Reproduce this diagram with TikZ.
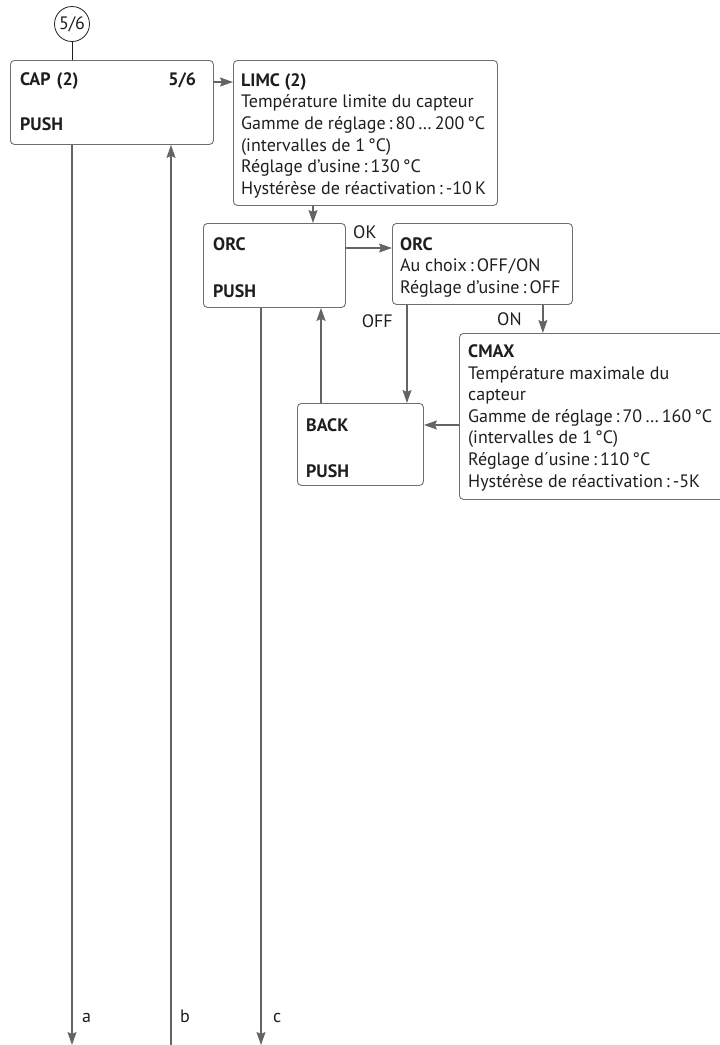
\documentclass[tikz,border=0pt]{standalone}
\usepackage{fontspec}
\setmainfont{PT Sans}
\definecolor{menugray}{RGB}{110,110,110}
\definecolor{linegray}{RGB}{100,100,100}
\definecolor{textdark}{RGB}{30,30,30}
\usetikzlibrary{arrows.meta,positioning,calc}

\begin{document}
\begin{tikzpicture}[
  x=1pt, y=-1pt,
  every node/.style={font=\fontsize{18}{21.6}\selectfont,text=textdark},
  menu/.style={draw=menugray,line width=0.9pt,rounded corners=4pt,
               anchor=north west,inner sep=0pt},
  txt/.style={anchor=north west,inner sep=0pt,align=left},
  flow/.style={draw=linegray,line width=1.3pt,
               -{Stealth[length=13pt,width=9pt,inset=2pt]}},
  stub/.style={draw=textdark,line width=0.8pt},
  tag/.style={inner sep=0pt},
]
  \useasboundingbox (0,0) rectangle (720,1045);

  % Entry mark
  \node[draw=textdark,circle,line width=0.8pt,minimum size=35pt,inner sep=0pt] (entry) at (72,24) {5/6};

  % Menu boxes
  \node[menu,minimum width=203pt,minimum height=84pt]  (cap)    at (10,60)   {};
  \node[menu,minimum width=264pt,minimum height=145pt] (limc)   at (233,60)  {};
  \node[menu,minimum width=142pt,minimum height=84pt]  (orc)    at (203,223) {};
  \node[menu,minimum width=180pt,minimum height=81pt]  (orcset) at (392,223) {};
  \node[menu,minimum width=290pt,minimum height=166pt] (cmax)   at (459,333) {};
  \node[menu,minimum width=126pt,minimum height=82pt]  (back)   at (297,403) {};

  % Box texts
  \node[txt,text width=176pt] (captxt) at (20,72.3)
    {\textbf{CAP (2)}\hfill\textbf{5/6}\\[23.5pt]\textbf{PUSH}};
  \node[txt] (limctxt) at (241,73.3)
    {\textbf{LIMC (2)}\\
     Température limite du capteur\\
     Gamme de réglage\,:\,80\,…\,200\,°C\\
     (intervalles de 1\,°C)\\
     Réglage d’usine\,:\,130\,°C\\
     Hystérèse de réactivation\,:\,-10\,K};
  \node[txt] (orctxt) at (213,237.2) {\textbf{ORC}\\[25.5pt]\textbf{PUSH}};
  \node[txt] (orcsettxt) at (400,237.2)
    {\textbf{ORC}\\
     Au choix\,:\,OFF\kern1pt/\kern1pt ON\\
     Réglage d’usine\,:\,OFF};
  \node[txt] (cmaxtxt) at (468,344.4)
    {\textbf{CMAX}\\
     Température maximale du\\
     capteur\\
     Gamme de réglage\,:\,70\,…\,160\,°C\\
     (intervalles de 1\,°C)\\
     Réglage d´usine\,:\,110\,°C\\
     Hystérèse de réactivation\,:\,-5K};
  \node[txt] (backtxt) at (306,418.4) {\textbf{BACK}\\[24.5pt]\textbf{PUSH}};

  % Exit points
  \coordinate (a) at (72,1045);
  \coordinate (b) at (171,1045);
  \coordinate (c) at (261,1045);

  % Connectors
  \draw[stub] (entry) -- (entry |- cap.north);
  \draw[flow] ([yshift=-22pt]cap.north east) -- ([yshift=-22pt]cap.north east -| limc.west);
  \draw[flow] (a |- cap.south) -- (a);
  \draw[flow] (b) -- (b |- cap.south);
  \draw[flow] ([xshift=80pt]limc.south west) -- ([xshift=80pt]limc.south west |- orc.north);
  \draw[flow] ([yshift=-25pt]orc.north east) -- ([yshift=-25pt]orc.north east -| orcset.west);
  \draw[flow] ([xshift=15pt]orcset.south west) -- ([xshift=15pt]orcset.south west |- back.north);
  \draw[flow] ([xshift=-30pt]orcset.south east) -- ([xshift=-30pt]orcset.south east |- cmax.north);
  \draw[flow] ([yshift=-92pt]cmax.north west) -- ([yshift=-92pt]cmax.north west -| back.east);
  \draw[flow] ([xshift=24pt]back.north west) -- ([xshift=24pt]back.north west |- orc.south);
  \draw[flow] (c |- orc.south) -- (c);

  % Connector labels
  \node[tag,anchor=base west] (ok)  at (353,238) {OK};
  \node[tag,anchor=base east] (off) at (393,327) {OFF};
  \node[tag,anchor=base west] (on)  at (497,325) {ON};
  \node[tag,anchor=base west] (la)  at (82,1022)  {a};
  \node[tag,anchor=base west] (lb)  at (180,1022) {b};
  \node[tag,anchor=base west] (lc)  at (273,1022) {c};
\end{tikzpicture}
\end{document}
